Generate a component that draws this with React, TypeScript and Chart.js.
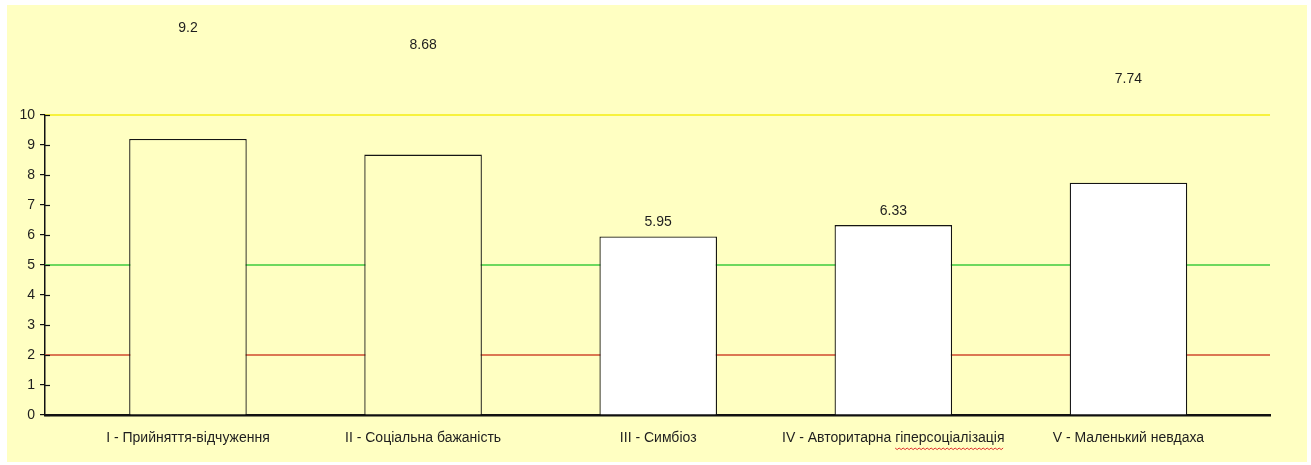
import React, { useEffect, useRef } from "react";
import { Chart, registerables } from "chart.js";

Chart.register(...registerables);

// Scale names and mean scores
const categories = [
  "I - Прийняття-відчуження",
  "II - Соціальна бажаність",
  "III - Симбіоз",
  "IV - Авторитарна гіперсоціалізація",
  "V - Маленький невдаха",
];
const scores = [9.2, 8.68, 5.95, 6.33, 7.74];
const barFills = ["#FFFFC2", "#FFFFC2", "#FFFFFF", "#FFFFFF", "#FFFFFF"];
const yTicks = [0, 1, 2, 3, 4, 5, 6, 7, 8, 9, 10];

// Norm levels drawn across the plot
const levelValues = [10, 5, 2];
const levelColors = ["#F4EE10", "#3CCB3C", "#CF4A2E"];

// How far above its bar each value label sits (px)
const LABEL_LIFT = [111, 109, 14, 14, 104];

const PAGE_BG = "#FFFFC2";
const FONT = "'Liberation Sans', Arial, sans-serif";

const backdrop = {
  id: "backdrop",
  beforeDraw(chart: any) {
    const { ctx, width, height } = chart;
    ctx.save();
    ctx.fillStyle = "#FFFFFF";
    ctx.fillRect(0, 0, width, height);
    ctx.fillStyle = PAGE_BG;
    ctx.fillRect(7, 5, 1300, 457);
    ctx.restore();
  },
};

const levels = {
  id: "levels",
  beforeDatasetsDraw(chart: any) {
    const { ctx, chartArea, scales } = chart;
    ctx.save();
    ctx.lineWidth = 1.6;
    levelValues.forEach((v, i) => {
      const y = scales.y.getPixelForValue(v);
      ctx.strokeStyle = levelColors[i];
      ctx.beginPath();
      ctx.moveTo(chartArea.left, y);
      ctx.lineTo(chartArea.right, y);
      ctx.stroke();
    });
    // inner half of the y tick marks
    ctx.strokeStyle = "#111";
    ctx.lineWidth = 1.2;
    yTicks.forEach((v) => {
      const y = Math.round(scales.y.getPixelForValue(v)) + 0.5;
      ctx.beginPath();
      ctx.moveTo(chartArea.left, y);
      ctx.lineTo(chartArea.left + 5, y);
      ctx.stroke();
    });
    ctx.restore();
  },
};

const valueLabels = {
  id: "valueLabels",
  afterDatasetsDraw(chart: any) {
    const { ctx } = chart;
    const meta = chart.getDatasetMeta(0);
    ctx.save();
    ctx.font = `14px ${FONT}`;
    ctx.fillStyle = "#1E1E1E";
    ctx.textAlign = "center";
    ctx.textBaseline = "middle";
    meta.data.forEach((bar: any, i: number) => {
      ctx.fillText(String(scores[i]), bar.x, bar.y - LABEL_LIFT[i]);
    });
    ctx.restore();
  },
};

// spell-check squiggle under the second word of the fourth category label
const squiggle = {
  id: "squiggle",
  afterDraw(chart: any) {
    const { ctx, scales } = chart;
    const label = categories[3];
    const cut = label.lastIndexOf(" ") + 1;
    ctx.save();
    ctx.font = `14px ${FONT}`;
    const full = ctx.measureText(label).width;
    const head = ctx.measureText(label.slice(0, cut)).width;
    const cx = scales.x.getPixelForValue(3);
    const x0 = cx - full / 2 + head;
    const x1 = cx + full / 2;
    const y = 448;
    ctx.strokeStyle = "#E03030";
    ctx.lineWidth = 1;
    ctx.beginPath();
    ctx.moveTo(x0, y);
    for (let x = x0, k = 0; x <= x1; x += 2, k++) {
      ctx.lineTo(x, y + (k % 2 === 0 ? 0 : 1.6));
    }
    ctx.stroke();
    ctx.restore();
  },
};

export default function App() {
  const canvasRef = useRef<HTMLCanvasElement | null>(null);

  useEffect(() => {
    document.body.style.margin = "0";
    const canvas = canvasRef.current;
    if (!canvas) return;
    const chart = new Chart(canvas, {
      type: "bar",
      data: {
        datasets: [
          {
            data: scores.map((v, i) => ({ x: i, y: v })),
            backgroundColor: barFills,
            borderColor: "#151515",
            borderWidth: 1.3,
            barPercentage: 0.5,
            categoryPercentage: 1,
          },
        ],
      },
      options: {
        animation: false,
        responsive: false,
        maintainAspectRatio: false,
        layout: { padding: { top: 115, right: 41, left: 0, bottom: 0 } },
        plugins: {
          legend: { display: false },
          tooltip: { enabled: false },
        },
        scales: {
          x: {
            type: "linear",
            offset: false,
            min: -0.608,
            max: 4.602,
            afterFit(scale: any) {
              scale.height = 50;
            },
            afterBuildTicks(scale: any) {
              scale.ticks = categories.map((_, i) => ({ value: i }));
            },
            grid: { display: false, drawTicks: false, offset: false },
            border: { display: true, color: "#111", width: 2.5 },
            ticks: {
              padding: 15,
              maxRotation: 0,
              autoSkip: false,
              color: "#1E1E1E",
              font: { size: 14, family: FONT },
              callback: (v: any) => categories[v as number] ?? "",
            },
          },
          y: {
            min: 0,
            max: 10,
            afterFit(scale: any) {
              scale.width = 45;
            },
            afterBuildTicks(scale: any) {
              scale.ticks = yTicks.map((v) => ({ value: v }));
            },
            grid: {
              display: true,
              drawOnChartArea: false,
              drawTicks: true,
              tickLength: 5,
              color: "#111",
              lineWidth: 1.2,
            },
            border: { display: true, color: "#111", width: 1.5 },
            ticks: {
              padding: 5,
              color: "#1E1E1E",
              font: { size: 14, family: FONT },
            },
          },
        },
      },
      plugins: [backdrop, levels, valueLabels, squiggle],
    });
    return () => chart.destroy();
  }, []);

  return (
    <div style={{ position: "relative", width: 1311, height: 465 }}>
      <canvas ref={canvasRef} width={1311} height={465} style={{ display: "block" }} />
    </div>
  );
}
